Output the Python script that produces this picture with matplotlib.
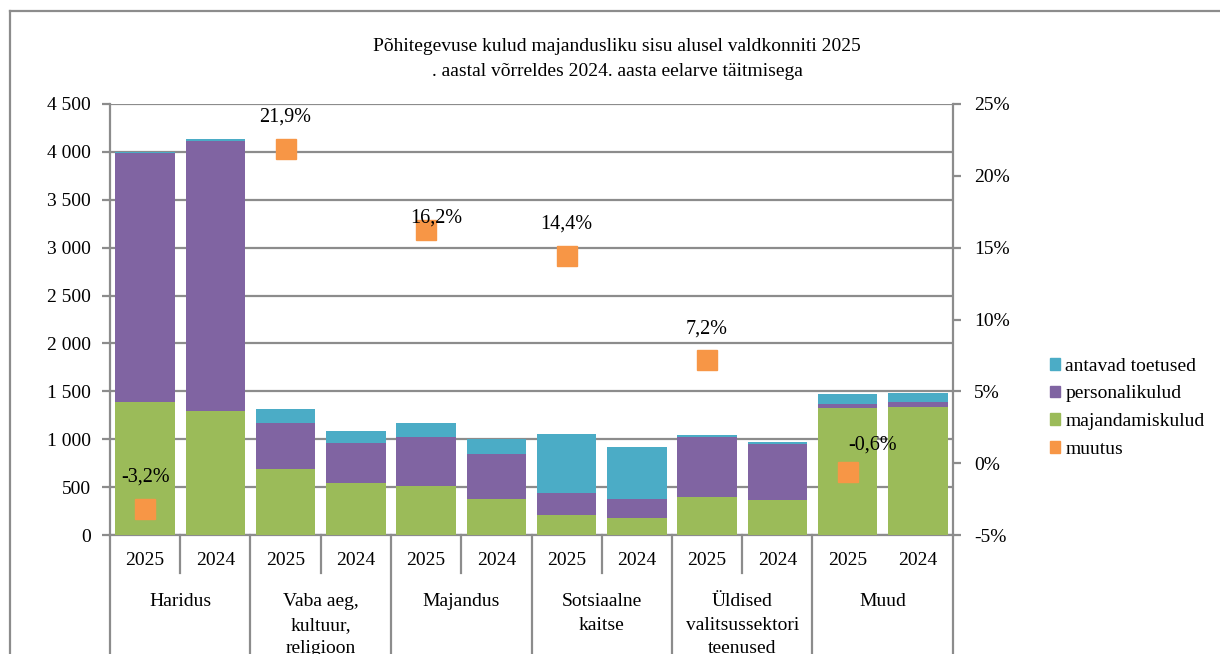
import matplotlib.pyplot as plt
import matplotlib.transforms as mtransforms
from matplotlib.patches import Patch
from matplotlib.lines import Line2D
import numpy as np

plt.rcParams['font.family'] = ['Liberation Serif', 'DejaVu Serif']

groups = ['Haridus', 'Vaba aeg,\nkultuur,\nreligioon', 'Majandus', 'Sotsiaalne\nkaitse',
          'Üldised\nvalitsussektori\nteenused', 'Muud']
years = ['2025', '2024']

# values per bar (2025, 2024 for each group), thousands eur
majandamiskulud = [1392, 1298, 686, 546, 508, 376, 212, 174, 400, 366, 1323, 1337]
personalikulud = [2600, 2817, 480, 418, 519, 467, 230, 199, 620, 588, 42, 55]
antavad_toetused = [12, 18, 146, 119, 139, 163, 613, 549, 21, 20, 104, 94]
muutus = [-3.2, 21.9, 16.2, 14.4, 7.2, -0.6]

c_green = '#9BBB59'
c_purple = '#8064A2'
c_blue = '#4BACC6'
c_orange = '#F79646'
c_grid = '#8C8C8C'
fs = 14

W, H = 1220, 654
fig = plt.figure(figsize=(W / 100, H / 100), dpi=100)
ax = fig.add_axes([110 / W, 1 - 535 / H, 843 / W, 431 / H])

x = np.arange(len(majandamiskulud))
g = np.array(majandamiskulud)
p = np.array(personalikulud)
b = np.array(antavad_toetused)
bw = 0.85
ax.bar(x, g, bw, color=c_green, zorder=3)
ax.bar(x, p, bw, bottom=g, color=c_purple, zorder=3)
ax.bar(x, b, bw, bottom=g + p, color=c_blue, zorder=3)

ax.set_xlim(-0.5, len(x) - 0.5)
ax.set_ylim(0, 4500)
ax.set_yticks(np.arange(0, 4501, 500))
ax.set_yticklabels([f'{v:,}'.replace(',', ' ') for v in range(0, 4501, 500)], fontsize=fs)
ax.yaxis.grid(True, color=c_grid, lw=1.6, zorder=0)
ax.set_xticks([])
ax.tick_params(axis='y', length=6, width=1.6, color=c_grid, pad=8)
for s in ['left', 'bottom', 'right']:
    ax.spines[s].set_color(c_grid)
    ax.spines[s].set_linewidth(1.6)
ax.spines['top'].set_visible(False)

ax2 = ax.twinx()
ax2.set_ylim(-5, 25)
ax2.set_yticks(range(-5, 26, 5))
ax2.set_yticklabels([f'{v}%' for v in range(-5, 26, 5)], fontsize=fs)
ax2.tick_params(axis='y', length=6, width=1.6, color=c_grid, pad=9)
for s in ax2.spines.values():
    s.set_visible(False)

mx = x[::2]
ax2.plot(mx, muutus, 's', ms=14, color=c_orange, zorder=5, clip_on=False)
# label offsets in pixels (dx, dy)
label_offsets = [(0, 32), (0, 31), (10, 12), (0, 32), (0, 31), (25, 27)]
for xi, v, (dx, dy) in zip(mx, muutus, label_offsets):
    ax2.annotate(f'{v:.1f}%'.replace('.', ','), (xi, v), xytext=(dx * 0.72, dy * 0.72),
                 textcoords='offset points', ha='center', va='center', fontsize=fs + 0.5, zorder=6)

# two-level category axis
tr = mtransforms.blended_transform_factory(ax.transData, ax.transAxes)
for i in range(len(x)):
    ax.text(i, -0.06, years[i % 2], transform=tr, ha='center', va='center', fontsize=fs)
for i in range(len(groups) - 1):
    ax.plot([2 * i + 0.5] * 2, [0, -0.088], transform=tr, color=c_grid, lw=1.6, clip_on=False)
for i in range(len(groups) + 1):
    ax.plot([2 * i - 0.5] * 2, [0, -0.4], transform=tr, color=c_grid, lw=1.6, clip_on=False)
for i, gname in enumerate(groups):
    ax.text(2 * i + 0.5, -0.135, gname, transform=tr, ha='center', va='top', fontsize=fs,
            linespacing=1.5)

fig.text(617 / W, 1 - 59 / H, 'Põhitegevuse kulud majandusliku sisu alusel valdkonniti 2025\n'
         '. aastal võrreldes 2024. aasta eelarve täitmisega',
         ha='center', va='center', fontsize=fs, linespacing=1.55)

handles = [Patch(color=c_blue), Patch(color=c_purple), Patch(color=c_green), Patch(color=c_orange)]
labels = ['antavad toetused', 'personalikulud', 'majandamiskulud', 'muutus']
fig.legend(handles, labels, loc='upper left', bbox_to_anchor=(1040 / W, 1 - 348 / H),
           frameon=False, fontsize=fs, handlelength=0.55, handleheight=0.55,
           handletextpad=0.25, labelspacing=0.55, borderpad=0)

# chart border
fig.add_artist(Line2D([10 / W, 1.0], [1 - 11 / H] * 2, color=c_grid, lw=1.6))
fig.add_artist(Line2D([10 / W] * 2, [0, 1 - 11 / H], color=c_grid, lw=1.6))

fig.savefig('out.png', dpi=100)
